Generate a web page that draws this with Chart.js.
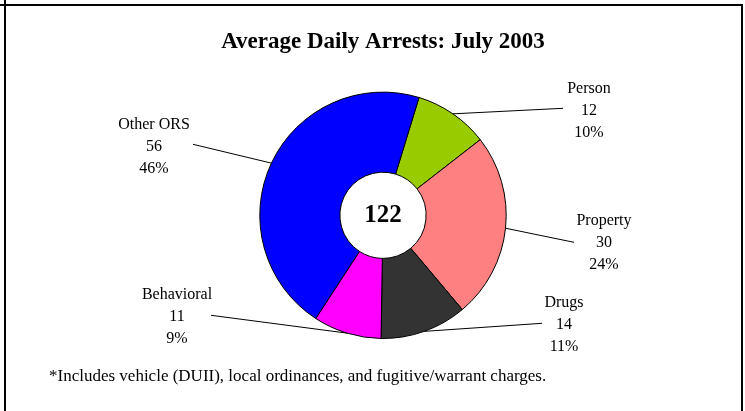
<!DOCTYPE html>
<html>
<head>
<meta charset="utf-8">
<script src="https://cdn.jsdelivr.net/npm/chart.js@4"></script>
<style>
body{margin:0;background:#fff;}
canvas{display:block;}
</style>
</head>
<body>
<canvas id="arrestChart" width="745" height="411"></canvas>
<script>

// Data
const categories = ["Person", "Property", "Drugs", "Behavioral", "Other ORS"];
const dailyArrests = [12, 30, 14, 11, 56];
const percentLabels = ["10%", "24%", "11%", "9%", "46%"];
const totalArrests = 122;
const sliceColors = ["#99CC00", "#FF8080", "#333333", "#FF00FF", "#0000FF"];

const footnote = "*Includes vehicle (DUII), local ordinances, and fugitive/warrant charges.";

// label placement, relative to pie centre (text centre + leader end)
const labelSpots = [
    {tx: 206, ty: -105, lx: 180, ly: -107},
    {tx: 221, ty: 27, lx: 191, ly: 27},
    {tx: 181, ty: 109, lx: 159, ly: 108},
    {tx: -206, ty: 101, lx: -172, ly: 100},
    {tx: -229, ty: -69, lx: -190, ly: -71}
];

const serif = "'Liberation Serif', 'Times New Roman', serif";

// ---------------------
// Labels, centre total, footnote, frame
// ---------------------

const extras = {

    id: "extras",

    afterDatasetsDraw(chart){

        const ctx = chart.ctx;
        const arcs = chart.getDatasetMeta(0).data;

        ctx.save();

        arcs.forEach((arc, i) => {

            const p = arc.getProps(["x", "y", "startAngle", "endAngle", "outerRadius"], true);
            const mid = (p.startAngle + p.endAngle) / 2;
            const ex = p.x + Math.cos(mid) * p.outerRadius;
            const ey = p.y + Math.sin(mid) * p.outerRadius;
            const s = labelSpots[i];

            ctx.strokeStyle = "#000";
            ctx.lineWidth = 1;
            ctx.beginPath();
            ctx.moveTo(ex, ey);
            ctx.lineTo(p.x + s.lx, p.y + s.ly);
            ctx.stroke();

            ctx.fillStyle = "#000";
            ctx.font = "16px " + serif;
            ctx.textAlign = "center";
            ctx.textBaseline = "middle";
            const cx = p.x + s.tx;
            const cy = p.y + s.ty;
            ctx.fillText(categories[i], cx, cy - 22);
            ctx.fillText(String(dailyArrests[i]), cx, cy);
            ctx.fillText(percentLabels[i], cx, cy + 22);

        });

        // centre total
        const c = arcs[0];
        ctx.font = "bold 25px " + serif;
        ctx.textAlign = "center";
        ctx.textBaseline = "middle";
        ctx.fillStyle = "#000";
        ctx.fillText(String(totalArrests), c.x, c.y);

        // footnote
        ctx.font = "17px " + serif;
        ctx.textAlign = "left";
        ctx.fillText(footnote, 49, 377);

        // frame
        ctx.lineWidth = 2;
        ctx.beginPath();
        ctx.moveTo(0, 5);
        ctx.lineTo(743, 5);
        ctx.moveTo(5, 0);
        ctx.lineTo(5, 411);
        ctx.moveTo(742, 4);
        ctx.lineTo(742, 411);
        ctx.stroke();

        ctx.restore();

    }

};

new Chart(

document.getElementById("arrestChart"),

{

type: "doughnut",

data: {

labels: categories,

datasets: [{

data: dailyArrests,

backgroundColor: sliceColors,

borderColor: "#000",

borderWidth: 1

}]

},

options: {

responsive: false,

animation: false,

rotation: 17,

cutout: "35%",

layout: {
    padding: {top: 0, bottom: 72, left: 199, right: 178}
},

plugins: {

    legend: {display: false},

    tooltip: {enabled: false},

    title: {
        display: true,
        text: "Average Daily Arrests: July 2003",
        color: "#000",
        font: {family: serif, size: 23, weight: "bold"},
        padding: {top: 28, bottom: 36}
    }

}

},

plugins: [extras]

}

);

</script>
</body>
</html>
